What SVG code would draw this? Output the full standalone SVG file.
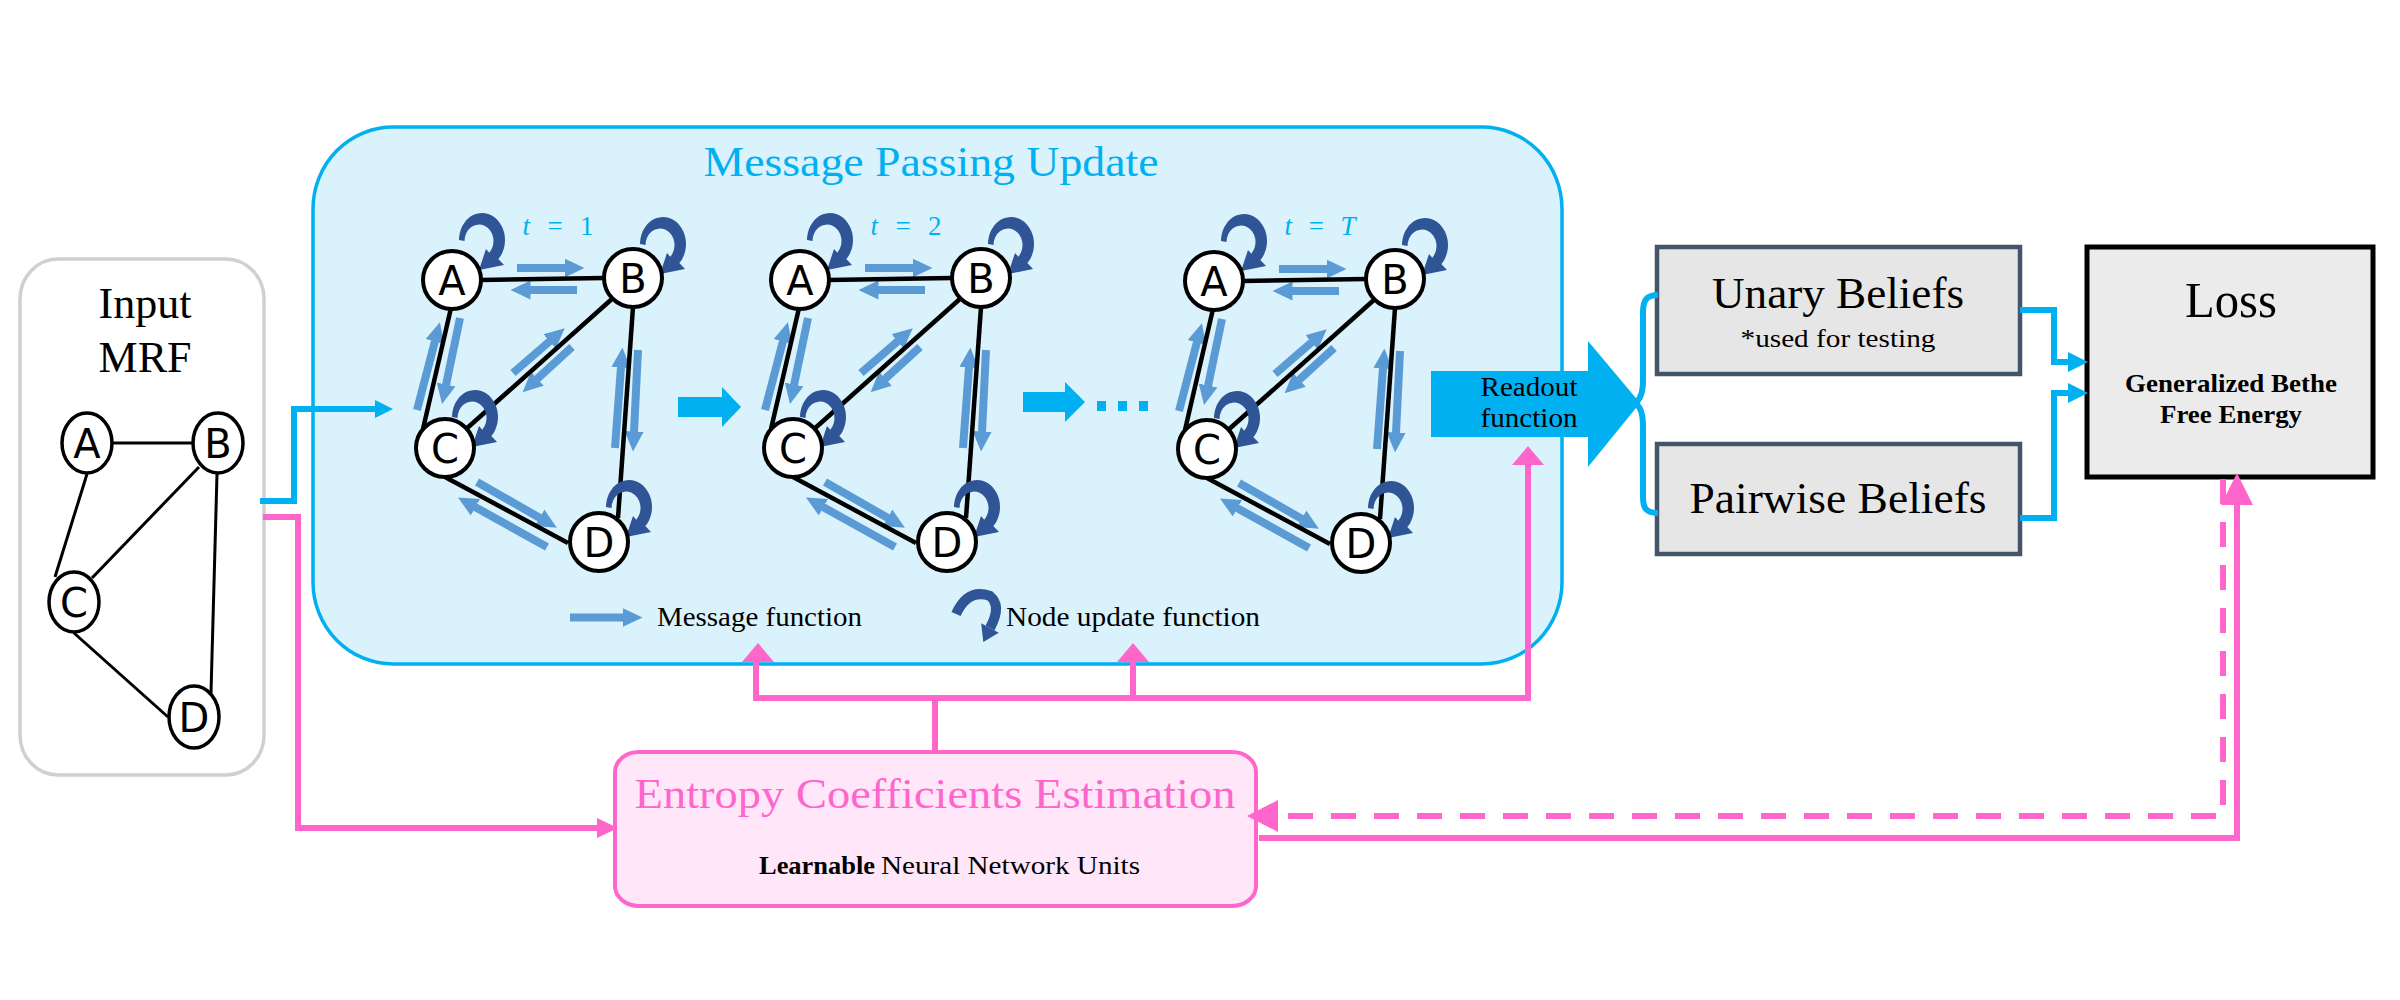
<svg xmlns="http://www.w3.org/2000/svg" xmlns:xlink="http://www.w3.org/1999/xlink" width="2400" height="1000" viewBox="0 0 2400 1000">
<style>
.serif{font-family:"Liberation Serif","DejaVu Serif",serif;fill:#000}
.sans{font-family:"DejaVu Sans","Liberation Sans",sans-serif;fill:#000}
.mid{text-anchor:middle}
.msg{stroke:#5B9BD5;stroke-width:8;fill:none;marker-end:url(#mh)}
.edge{stroke:#000;stroke-width:4.5;fill:none}
.node{fill:#fff;stroke:#000;stroke-width:4}
.lbl{font-size:40px}
.tl{font-size:27px;fill:#00B0F0}
.cy{stroke:#00B0F0;stroke-width:6;fill:none}
.cyf{fill:#00B0F0}
.pk{stroke:#FF66CC;stroke-width:6;fill:none}
.pkf{fill:#FF66CC}
.box{fill:#E7E6E6;stroke:#44546A;stroke-width:4.5}
</style>
<defs>
<marker id="mh" markerUnits="userSpaceOnUse" markerWidth="20" markerHeight="20" viewBox="0 0 20 20" refX="0.5" refY="10" orient="auto">
<path d="M0,0.5 L20,10 L0,19.5 z" fill="#5B9BD5"/>
</marker>
<path id="loopShape" fill="#2F5597" d="M7,-40 A23,27 0 1 1 46.3,-20.9 L52,-15 L27,-10 L34,-31 L37.3,-27.3 A14.5,16.5 0 1 0 12.5,-39 Z"/>
</defs>

<!-- Input MRF -->
<g id="input-mrf">
<rect x="20" y="259" width="244" height="516" rx="38" ry="40" fill="#fff" stroke="#D0D0D0" stroke-width="3.5"/>
<text class="serif mid" x="145" y="318" font-size="44">Input</text>
<text class="serif mid" x="145" y="372" font-size="44">MRF</text>
<g stroke="#000" stroke-width="3" fill="none">
<line x1="110" y1="443" x2="195" y2="443"/>
<line x1="87" y1="474" x2="55" y2="577"/>
<line x1="199" y1="467" x2="92" y2="578"/>
<line x1="217" y1="474" x2="211" y2="693"/>
<line x1="74" y1="633" x2="168" y2="717"/>
</g>
<g id="in-A"><ellipse cx="87" cy="443" rx="25" ry="30" fill="#fff" stroke="#000" stroke-width="3.5"/><text class="sans mid lbl" x="87" y="458">A</text></g>
<g id="in-B"><ellipse cx="218" cy="443" rx="25" ry="30" fill="#fff" stroke="#000" stroke-width="3.5"/><text class="sans mid lbl" x="218" y="458">B</text></g>
<g id="in-C"><ellipse cx="74" cy="602" rx="25" ry="30" fill="#fff" stroke="#000" stroke-width="3.5"/><text class="sans mid lbl" x="74" y="617">C</text></g>
<g id="in-D"><ellipse cx="194" cy="717" rx="25" ry="31" fill="#fff" stroke="#000" stroke-width="3.5"/><text class="sans mid lbl" x="194" y="732">D</text></g>
</g>

<!-- Message passing update -->
<g id="message-passing">
<rect x="313" y="127" width="1249" height="537" rx="80" ry="82" fill="#DAF2FB" stroke="#00B0F0" stroke-width="3.5"/>
<text class="serif mid" x="931" y="176" font-size="42" style="fill:#00B0F0" textLength="455" lengthAdjust="spacingAndGlyphs">Message Passing Update</text>
</g>

<!-- graph t=1 -->
<g id="graph-t1">
<text class="serif mid tl" x="558" y="235" textLength="71"><tspan font-style="italic">t</tspan> = 1</text>
<line class="msg" x1="517" y1="268" x2="565" y2="268"/>
<line class="msg" x1="577" y1="290" x2="530" y2="290"/>
<line class="msg" x1="417" y1="410" x2="435" y2="341"/>
<line class="msg" x1="460" y1="318" x2="446" y2="385"/>
<line class="msg" x1="513" y1="373" x2="550" y2="341"/>
<line class="msg" x1="572" y1="347" x2="537" y2="379"/>
<line class="msg" x1="615" y1="448" x2="621" y2="367"/>
<line class="msg" x1="638" y1="350" x2="634" y2="432"/>
<line class="msg" x1="477" y1="482" x2="540" y2="518"/>
<line class="msg" x1="547" y1="547" x2="475" y2="507"/>
<line class="edge" x1="480" y1="280" x2="604" y2="278"/>
<line class="edge" x1="451" y1="308" x2="423" y2="429"/>
<line class="edge" x1="613" y1="298" x2="465" y2="430"/>
<line class="edge" x1="633" y1="307" x2="618" y2="518"/>
<line class="edge" x1="445" y1="477" x2="568" y2="543"/>
<use xlink:href="#loopShape" transform="translate(452,280)"/>
<use xlink:href="#loopShape" transform="translate(633,284)"/>
<use xlink:href="#loopShape" transform="translate(445,457)"/>
<use xlink:href="#loopShape" transform="translate(599,547)"/>
<g id="t1-A"><circle class="node" cx="452" cy="280" r="29"/><text class="sans mid lbl" x="452" y="295">A</text></g>
<g id="t1-B"><circle class="node" cx="633" cy="278" r="29"/><text class="sans mid lbl" x="633" y="293">B</text></g>
<g id="t1-C"><circle class="node" cx="445" cy="448" r="29"/><text class="sans mid lbl" x="445" y="463">C</text></g>
<g id="t1-D"><circle class="node" cx="599" cy="542" r="29"/><text class="sans mid lbl" x="599" y="557">D</text></g>
</g>

<!-- graph t=2 -->
<g id="graph-t2" transform="translate(348,0)">
<text class="serif mid tl" x="558" y="235" textLength="71"><tspan font-style="italic">t</tspan> = 2</text>
<line class="msg" x1="517" y1="268" x2="565" y2="268"/>
<line class="msg" x1="577" y1="290" x2="530" y2="290"/>
<line class="msg" x1="417" y1="410" x2="435" y2="341"/>
<line class="msg" x1="460" y1="318" x2="446" y2="385"/>
<line class="msg" x1="513" y1="373" x2="550" y2="341"/>
<line class="msg" x1="572" y1="347" x2="537" y2="379"/>
<line class="msg" x1="615" y1="448" x2="621" y2="367"/>
<line class="msg" x1="638" y1="350" x2="634" y2="432"/>
<line class="msg" x1="477" y1="482" x2="540" y2="518"/>
<line class="msg" x1="547" y1="547" x2="475" y2="507"/>
<line class="edge" x1="480" y1="280" x2="604" y2="278"/>
<line class="edge" x1="451" y1="308" x2="423" y2="429"/>
<line class="edge" x1="613" y1="298" x2="465" y2="430"/>
<line class="edge" x1="633" y1="307" x2="618" y2="518"/>
<line class="edge" x1="445" y1="477" x2="568" y2="543"/>
<use xlink:href="#loopShape" transform="translate(452,280)"/>
<use xlink:href="#loopShape" transform="translate(633,284)"/>
<use xlink:href="#loopShape" transform="translate(445,457)"/>
<use xlink:href="#loopShape" transform="translate(599,547)"/>
<g id="t2-A"><circle class="node" cx="452" cy="280" r="29"/><text class="sans mid lbl" x="452" y="295">A</text></g>
<g id="t2-B"><circle class="node" cx="633" cy="278" r="29"/><text class="sans mid lbl" x="633" y="293">B</text></g>
<g id="t2-C"><circle class="node" cx="445" cy="448" r="29"/><text class="sans mid lbl" x="445" y="463">C</text></g>
<g id="t2-D"><circle class="node" cx="599" cy="542" r="29"/><text class="sans mid lbl" x="599" y="557">D</text></g>
</g>

<!-- graph t=T -->
<g id="graph-tT" transform="translate(762,1)">
<text class="serif mid tl" x="558" y="234" textLength="71"><tspan font-style="italic">t</tspan> = <tspan font-style="italic">T</tspan></text>
<line class="msg" x1="517" y1="268" x2="565" y2="268"/>
<line class="msg" x1="577" y1="290" x2="530" y2="290"/>
<line class="msg" x1="417" y1="410" x2="435" y2="341"/>
<line class="msg" x1="460" y1="318" x2="446" y2="385"/>
<line class="msg" x1="513" y1="373" x2="550" y2="341"/>
<line class="msg" x1="572" y1="347" x2="537" y2="379"/>
<line class="msg" x1="615" y1="448" x2="621" y2="367"/>
<line class="msg" x1="638" y1="350" x2="634" y2="432"/>
<line class="msg" x1="477" y1="482" x2="540" y2="518"/>
<line class="msg" x1="547" y1="547" x2="475" y2="507"/>
<line class="edge" x1="480" y1="280" x2="604" y2="278"/>
<line class="edge" x1="451" y1="308" x2="423" y2="429"/>
<line class="edge" x1="613" y1="298" x2="465" y2="430"/>
<line class="edge" x1="633" y1="307" x2="618" y2="518"/>
<line class="edge" x1="445" y1="477" x2="568" y2="543"/>
<use xlink:href="#loopShape" transform="translate(452,280)"/>
<use xlink:href="#loopShape" transform="translate(633,284)"/>
<use xlink:href="#loopShape" transform="translate(445,457)"/>
<use xlink:href="#loopShape" transform="translate(599,547)"/>
<g id="tT-A"><circle class="node" cx="452" cy="280" r="29"/><text class="sans mid lbl" x="452" y="295">A</text></g>
<g id="tT-B"><circle class="node" cx="633" cy="278" r="29"/><text class="sans mid lbl" x="633" y="293">B</text></g>
<g id="tT-C"><circle class="node" cx="445" cy="448" r="29"/><text class="sans mid lbl" x="445" y="463">C</text></g>
<g id="tT-D"><circle class="node" cx="599" cy="542" r="29"/><text class="sans mid lbl" x="599" y="557">D</text></g>
</g>

<!-- step arrows and dots -->
<g id="step-arrows" class="cyf">
<polygon points="678,397 722,397 722,387 741,407 722,427 722,417 678,417"/>
<polygon points="1023,392 1065,392 1065,382 1085,402 1065,422 1065,412 1023,412"/>
<rect x="1097" y="401" width="9" height="10"/>
<rect x="1118" y="401" width="9" height="10"/>
<rect x="1139" y="401" width="9" height="10"/>
</g>

<!-- legend -->
<g id="legend">
<line class="msg" x1="570" y1="617.5" x2="623" y2="617.5"/>
<text class="serif" x="657" y="626" font-size="28" textLength="205" lengthAdjust="spacingAndGlyphs">Message function</text>
<path d="M956,614 Q968,588 990,596 Q1002,606 990,628" fill="none" stroke="#2F5597" stroke-width="10"/>
<polygon points="998.8,632.8 983.3,642 981.2,623.2" fill="#2F5597"/>
<text class="serif" x="1006" y="626" font-size="28" textLength="254" lengthAdjust="spacingAndGlyphs">Node update function</text>
</g>

<!-- readout -->
<g id="readout">
<rect x="1431" y="371" width="158" height="66" class="cyf"/>
<polygon points="1588,341 1640,403 1588,467" class="cyf"/>
<text class="serif mid" x="1529" y="396" font-size="28" textLength="97" lengthAdjust="spacingAndGlyphs">Readout</text>
<text class="serif mid" x="1529" y="427" font-size="28" textLength="97" lengthAdjust="spacingAndGlyphs">function</text>
</g>

<!-- belief boxes -->
<g id="unary-beliefs">
<rect class="box" x="1657" y="247" width="363" height="127"/>
<text class="serif mid" x="1838" y="308" font-size="44" textLength="252" lengthAdjust="spacingAndGlyphs">Unary Beliefs</text>
<text class="serif mid" x="1838" y="347" font-size="26" textLength="195" lengthAdjust="spacingAndGlyphs">*used for testing</text>
</g>
<g id="pairwise-beliefs">
<rect class="box" x="1657" y="444" width="363" height="110"/>
<text class="serif mid" x="1838" y="513" font-size="44" textLength="297" lengthAdjust="spacingAndGlyphs">Pairwise Beliefs</text>
</g>

<!-- loss -->
<g id="loss">
<rect x="2087" y="247" width="286" height="230" fill="#EBEBEB" stroke="#000" stroke-width="5"/>
<text class="serif mid" x="2231" y="317" font-size="50" textLength="92" lengthAdjust="spacingAndGlyphs">Loss</text>
<text class="serif mid" x="2231" y="392" font-size="26" font-weight="bold" textLength="212" lengthAdjust="spacingAndGlyphs">Generalized Bethe</text>
<text class="serif mid" x="2231" y="423" font-size="26" font-weight="bold" textLength="142" lengthAdjust="spacingAndGlyphs">Free Energy</text>
</g>

<!-- entropy -->
<g id="entropy">
<rect x="615" y="752" width="641" height="154" rx="24" ry="20" fill="#FFE6F8" stroke="#FF66CC" stroke-width="4"/>
<text class="serif mid" x="935" y="808" font-size="42" style="fill:#FF66CC" textLength="601" lengthAdjust="spacingAndGlyphs">Entropy Coefficients Estimation</text>
<text class="serif" x="759" y="874" font-size="26" font-weight="bold" textLength="116" lengthAdjust="spacingAndGlyphs">Learnable</text>
<text class="serif" x="881" y="874" font-size="26" textLength="259" lengthAdjust="spacingAndGlyphs">Neural Network Units</text>
</g>

<!-- connectors -->
<g id="connectors">
<path class="cy" d="M260,501 H294 V409 H377"/>
<polygon class="cyf" points="375,400 393,409 375,418"/>
<path class="cy" stroke-width="5" d="M1658,295 C1646,295 1643,301 1643,312 L1643,380 C1643,394 1640,400 1635,403 C1640,406 1643,412 1643,426 L1643,497 C1643,508 1646,513 1658,513"/>
<path class="cy" d="M2020,310 H2054 V362 H2070"/>
<polygon class="cyf" points="2068,352 2088,362 2068,372"/>
<path class="cy" d="M2020,518 H2054 V393 H2070"/>
<polygon class="cyf" points="2068,383 2088,393 2068,403"/>

<path class="pk" d="M263,517 H298 V828 H599"/>
<polygon class="pkf" points="597,818 618,828 597,838"/>
<path class="pk" d="M935,752 V698"/>
<path class="pk" d="M756,662 V698 H1528 V464"/>
<path class="pk" d="M1133,698 V662"/>
<polygon class="pkf" points="742,662 758,643 774,662"/>
<polygon class="pkf" points="1117,662 1133,643 1149,662"/>
<polygon class="pkf" points="1512,465 1528,446 1544,465"/>
<path class="pk" d="M1259,838 H2237 V503"/>
<polygon class="pkf" points="2221,505 2237,473 2253,505"/>
<path class="pk" stroke-width="7" stroke-dasharray="25 18" d="M2223,479 V816 H1276"/>
<polygon class="pkf" points="1278,800 1247,816 1278,832"/>
</g>
</svg>
